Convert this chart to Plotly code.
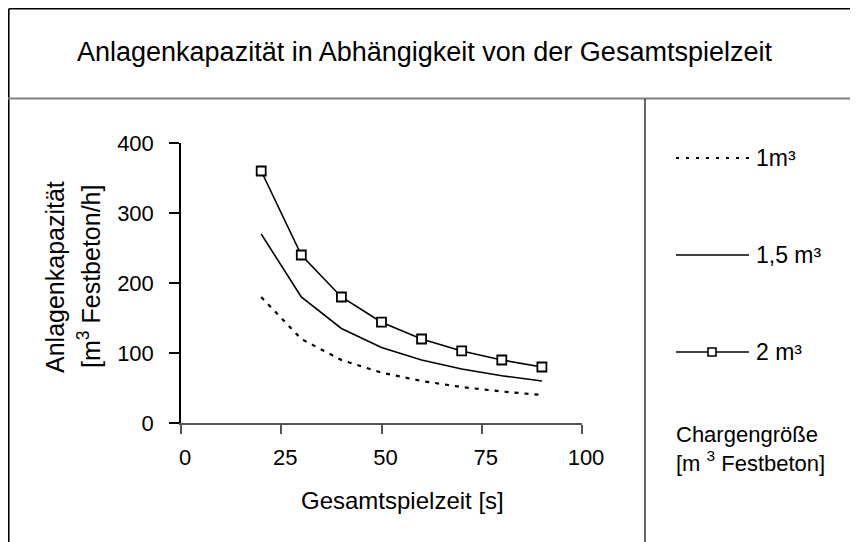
import plotly.graph_objects as go

# ---- data ----
spielzeit = [20, 30, 40, 50, 60, 70, 80, 90]
kap_1 = [180, 120, 90, 72, 60, 51.4, 45, 40]
kap_15 = [270, 180, 135, 108, 90, 77.1, 67.5, 60]
kap_2 = [360, 240, 180, 144, 120, 102.9, 90, 80]
series_names = ["1m³", "1,5 m³", "2 m³"]
x_ticks = [0, 25, 50, 75, 100]
y_ticks = [0, 100, 200, 300, 400]

OFF = 8  # page body margin
W, H = 858 - OFF, 542 - OFF
# plot area in page pixels
PL, PR, PT, PB = 181, 582, 143, 423
L, R, T, B = PL - OFF, PR - OFF, PT - OFF, PB - OFF
FONT = "Liberation Sans, Arial, sans-serif"


def px(x):
    """page pixel x -> paper fraction"""
    return (x - PL) / (PR - PL)


def py(y):
    """page pixel y -> paper fraction"""
    return (PB - y) / (PB - PT)


fig = go.Figure()
fig.add_trace(go.Scatter(x=spielzeit, y=kap_1, mode="lines", name=series_names[0],
                         line=dict(color="black", width=2.2, dash="4px,6px")))
fig.add_trace(go.Scatter(x=spielzeit, y=kap_15, mode="lines", name=series_names[1],
                         line=dict(color="black", width=1.6)))
fig.add_trace(go.Scatter(x=spielzeit, y=kap_2, mode="lines+markers", name=series_names[2],
                         line=dict(color="black", width=1.6),
                         marker=dict(symbol="square", size=9, color="white",
                                     line=dict(color="black", width=1.8))))

shapes = []
# outer frame lines (top and left edge of the figure)
shapes.append(dict(type="line", xref="paper", yref="paper", x0=px(8.8), x1=px(858), y0=py(8.8), y1=py(8.8),
                   line=dict(color="black", width=1.6)))
shapes.append(dict(type="line", xref="paper", yref="paper", x0=px(8.8), x1=px(8.8), y0=py(8.8), y1=py(542),
                   line=dict(color="black", width=1.6)))
# title divider
shapes.append(dict(type="line", xref="paper", yref="paper", x0=px(8), x1=px(858), y0=py(98.5), y1=py(98.5),
                   line=dict(color="#808080", width=2)))
# legend divider
shapes.append(dict(type="line", xref="paper", yref="paper", x0=px(645), x1=px(645), y0=py(99), y1=py(542),
                   line=dict(color="black", width=1.2)))

# legend samples
leg_y = [158, 255, 352]
styles = [dict(color="black", width=2.2, dash="3px,7px"),
          dict(color="black", width=1.6),
          dict(color="black", width=1.6)]
for yy, st in zip(leg_y, styles):
    shapes.append(dict(type="line", xref="paper", yref="paper", x0=px(676), x1=px(749),
                       y0=py(yy), y1=py(yy), line=st))
shapes.append(dict(type="rect", xref="paper", yref="paper", x0=px(708), x1=px(716),
                   y0=py(leg_y[2] - 4), y1=py(leg_y[2] + 4),
                   fillcolor="white", line=dict(color="black", width=1.6)))

annotations = []
annotations.append(dict(text="Anlagenkapazität in Abhängigkeit von der Gesamtspielzeit",
                        xref="paper", yref="paper", x=px(424), y=py(52), showarrow=False,
                        xanchor="center", yanchor="middle", font=dict(size=27, color="black", family=FONT)))
annotations.append(dict(text="Gesamtspielzeit [s]", xref="paper", yref="paper", x=px(402), y=py(500),
                        showarrow=False, xanchor="center", yanchor="middle",
                        font=dict(size=24, color="black", family=FONT)))
annotations.append(dict(text="Anlagenkapazität", xref="paper", yref="paper", x=px(55), y=py(277),
                        showarrow=False, textangle=-90, xanchor="center", yanchor="middle",
                        font=dict(size=25, color="black", family=FONT)))
annotations.append(dict(text="[m<sup>3</sup> Festbeton/h]", xref="paper", yref="paper", x=px(89), y=py(277),
                        showarrow=False, textangle=-90, xanchor="center", yanchor="middle",
                        font=dict(size=25, color="black", family=FONT)))
for yy, nm in zip(leg_y, series_names):
    annotations.append(dict(text=nm, xref="paper", yref="paper", x=px(754), y=py(yy), showarrow=False,
                            xanchor="left", yanchor="middle", font=dict(size=23, color="black", family=FONT)))
annotations.append(dict(text="Chargengröße<br>[m <sup>3</sup> Festbeton]", xref="paper", yref="paper",
                        x=px(674), y=py(449), showarrow=False, xanchor="left", yanchor="middle", align="left",
                        font=dict(size=22, color="black", family=FONT)))

fig.update_layout(
    width=W, height=H,
    margin=dict(l=L, r=W - R, t=T, b=H - B, pad=0),
    paper_bgcolor="white", plot_bgcolor="white",
    showlegend=False,
    font=dict(family=FONT, color="black"),
    shapes=shapes, annotations=annotations,
)
fig.update_xaxes(range=[0, 100], tickvals=x_ticks, showgrid=False, zeroline=False,
                 showline=True, linecolor="#555555", linewidth=1.5,
                 ticks="outside", ticklen=9, tickcolor="#555555", tickwidth=1.5,
                 ticklabelstandoff=5, ticklabelshift=4,
                 tickfont=dict(size=22, color="black", family=FONT))
fig.update_yaxes(range=[0, 400], tickvals=y_ticks, showgrid=False, zeroline=False,
                 showline=True, linecolor="black", linewidth=1.5,
                 ticks="outside", ticklen=10, tickcolor="black", tickwidth=1.5,
                 ticklabelstandoff=11,
                 tickfont=dict(size=22, color="black", family=FONT))

fig.write_html("out.html")
